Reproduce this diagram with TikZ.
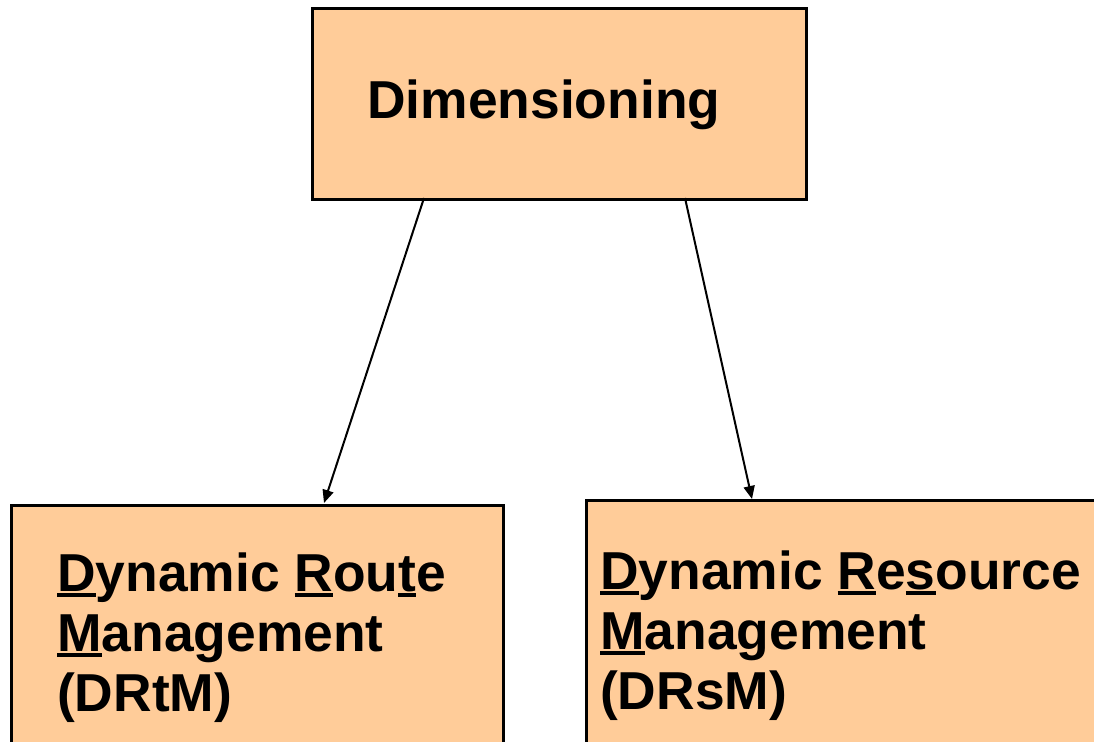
\documentclass[tikz,border=0pt]{standalone}
\usepackage{fontspec}
\setmainfont{Liberation Sans}
\usetikzlibrary{arrows.meta}
\definecolor{boxfill}{HTML}{FFCC99}
\newcommand\myul[1]{\setbox0\hbox{#1}\rlap{\rule[-6pt]{\wd0}{4pt}}\box0}
\begin{document}
\begin{tikzpicture}[x=1pt,y=-1pt,
  box/.style={draw=black,line width=2.8pt,fill=boxfill},
  lbl/.style={anchor=base west,inner sep=0pt,font=\fontsize{53.4}{60}\selectfont\bfseries},
  conn/.style={line width=2pt,-{Triangle[length=13pt,width=11pt]}}]
\useasboundingbox (0,0) rectangle (1094,741);
\clip (0,0) rectangle (1094,741);
\fill[white] (0,0) rectangle (1094,741);
\node[box,anchor=north west,minimum width=494pt,minimum height=191pt,inner sep=0pt] (top) at (311,7) {};
\node[box,anchor=north west,minimum width=492pt,minimum height=280pt,inner sep=0pt] (left) at (10,504) {};
\node[box,anchor=north west,minimum width=560pt,minimum height=280pt,inner sep=0pt] (right) at (585,499) {};
\node[lbl] (dim) at (367,118) {Dimensioning};
\node[lbl] (l1) at (57,591) {\myul{D}ynamic \myul{R}ou\myul{t}e};
\node[lbl] (l2) at (57,651) {\myul{M}anagement};
\node[lbl] (l3) at (57,711) {(DRtM)};
\node[lbl] (r1) at (600,589) {\myul{D}ynamic \myul{R}e\myul{s}ource};
\node[lbl] (r2) at (600,649) {\myul{M}anagement};
\node[lbl] (r3) at (600,709) {(DRsM)};
\coordinate (a1s) at (424,198);
\coordinate (a1e) at (324,503);
\coordinate (a2s) at (685,198);
\coordinate (a2e) at (752,499);
\draw[conn] (a1s) -- (a1e);
\draw[conn] (a2s) -- (a2e);
\end{tikzpicture}
\end{document}
